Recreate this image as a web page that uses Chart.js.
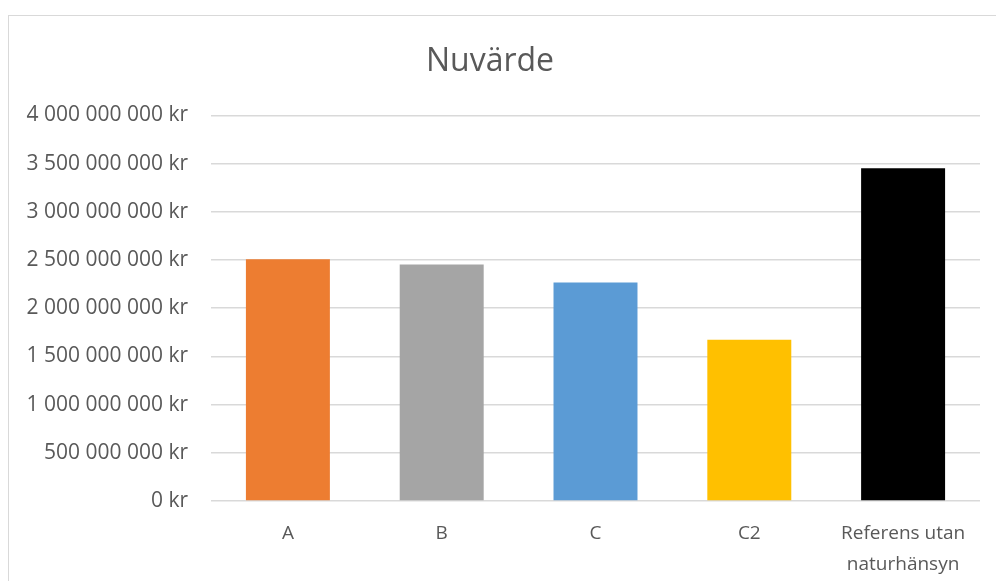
<!DOCTYPE html>
<html>
<head>
<meta charset="utf-8">
<script src="https://cdn.jsdelivr.net/npm/chart.js@4.4.0/dist/chart.umd.min.js"></script>
<style>
  html, body { margin: 0; padding: 0; background: #fff; overflow: hidden; }
  #frame { position: absolute; left: 8px; top: 15px; width: 1100px; height: 700px; border: 1px solid #d9d9d9; }
  #wrap { position: absolute; left: 0; top: 0; width: 996px; height: 581px; }
</style>
</head>
<body>
<div id="frame"></div>
<div id="wrap"><canvas id="chart" width="996" height="581"></canvas></div>
<script>
const categories = ['A', 'B', 'C', 'C2', ['Referens utan', 'naturhänsyn']];
const values = [2508000000, 2453000000, 2266000000, 1673000000, 3451000000];
const barColors = ['#ED7D31', '#A5A5A5', '#5B9BD5', '#FFC000', '#000000'];
const yTicks = [0, 500000000, 1000000000, 1500000000, 2000000000, 2500000000, 3000000000, 3500000000, 4000000000];

const textColor = '#595959';
const fontFamily = '"Open Sans", sans-serif';

function formatKr(v) {
  return String(v).replace(/\B(?=(\d{3})+(?!\d))/g, ' ') + ' kr';
}

const ctx = document.getElementById('chart').getContext('2d');
new Chart(ctx, {
  type: 'bar',
  data: {
    labels: categories,
    datasets: [{
      label: 'Nuvärde',
      data: values,
      backgroundColor: barColors,
      borderWidth: 0,
      barPercentage: 0.546,
      categoryPercentage: 1
    }]
  },
  options: {
    responsive: false,
    animation: false,
    layout: { padding: { left: 0, right: 16, top: 0, bottom: 0 } },
    plugins: {
      legend: { display: false },
      tooltip: { enabled: false },
      title: {
        display: true,
        text: 'Nuvärde',
        color: textColor,
        font: { family: fontFamily, size: 32, weight: 'normal', lineHeight: 1.2 },
        padding: { top: 43, bottom: 34 }
      }
    },
    scales: {
      x: {
        grid: { display: false, drawTicks: false },
        border: { display: false },
        afterFit: scale => { scale.height = 80; },
        ticks: {
          color: textColor,
          font: { family: fontFamily, size: 19, lineHeight: '31px' },
          padding: 17,
          maxRotation: 0,
          autoSkip: false
        }
      },
      y: {
        min: 0,
        max: 4000000000,
        afterBuildTicks: scale => { scale.ticks = yTicks.map(v => ({ value: v })); },
        afterFit: scale => { scale.width = 211; },
        grid: { color: '#d9d9d9', lineWidth: 1.5, drawTicks: false },
        border: { display: false },
        ticks: {
          color: textColor,
          font: { family: fontFamily, size: 21 },
          padding: 23,
          callback: v => formatKr(v)
        }
      }
    }
  }
});
</script>
</body>
</html>
